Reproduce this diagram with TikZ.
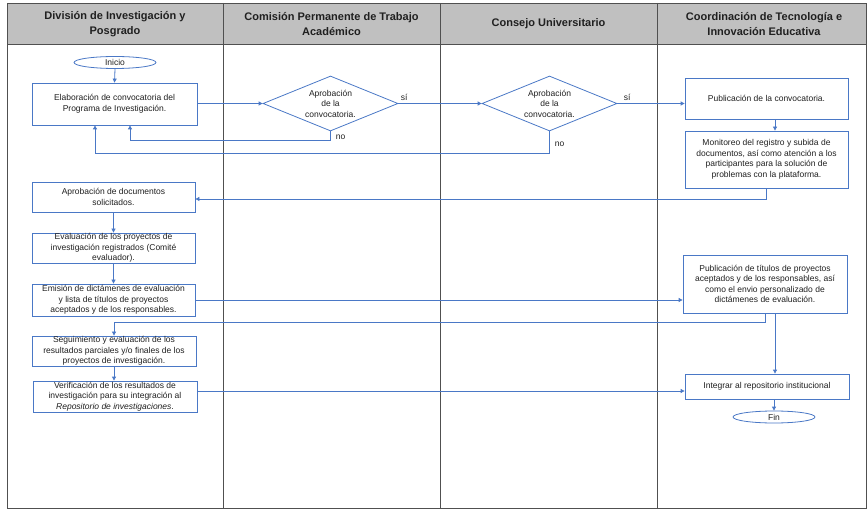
\documentclass[tikz,border=0pt]{standalone}
\usepackage{fontspec}
\setmainfont{Liberation Sans}
\usetikzlibrary{shapes.geometric,arrows.meta,calc}
\definecolor{flow}{HTML}{4A78C6}
\definecolor{hdr}{HTML}{C0C0C0}
\definecolor{gridc}{HTML}{505050}
\definecolor{txt}{HTML}{202020}
\tikzset{
  box/.style={draw=flow, line width=0.8pt, fill=white, rectangle, inner sep=0pt,
    align=center, font=\fontsize{8.5}{10.6}\selectfont, text=txt},
  term/.style={draw=flow, line width=0.8pt, ellipse, inner sep=0pt,
    minimum width=82pt, minimum height=12pt, font=\fontsize{8.5}{10}\selectfont, text=txt},
  decis/.style={draw=flow, line width=0.8pt, diamond, aspect=2.45, inner sep=0pt,
    minimum width=135pt, minimum height=55pt, align=center,
    font=\fontsize{8.5}{10.5}\selectfont, text=txt},
  head/.style={align=center, font=\fontsize{11}{15}\selectfont\bfseries, text=txt},
  arr/.style={draw=flow, line width=0.8pt, -{Triangle[width=4pt,length=4pt]}},
  lbl/.style={font=\fontsize{8.5}{10}\selectfont, text=txt, inner sep=2pt},
  gline/.style={draw=gridc, line width=0.9pt}
}
\begin{document}
\begin{tikzpicture}[x=1pt,y=-1pt]
\useasboundingbox (0,0) rectangle (867,510);
% table
\fill[hdr] (7,3) rectangle (866,44);
\draw[gline] (7,3) rectangle (866,508);
\draw[gline] (7,44) -- (866,44);
\foreach \cx in {223,440,657} \draw[gline] (\cx,3) -- (\cx,508);
% headers
\node[head] (h1) at (115,24) {División de Investigación y\\Posgrado};
\node[head] (h2) at (331.5,24) {Comisión Permanente de Trabajo\\Académico};
\node[head] (h3) at (548.5,24) {Consejo Universitario};
\node[head] (h4) at (764,24) {Coordinación de Tecnología e\\Innovación Educativa};
% nodes
\node[term] (inicio) at (115,62.5) {Inicio};
\node[box, minimum width=165pt, minimum height=42pt] (elab) at (114.5,104)
  {Elaboración de convocatoria del\\Programa de Investigación.};
\node[decis] (d1) at (330.5,103.5) {Aprobación\\de la\\convocatoria.};
\node[decis] (d2) at (549.5,103.5) {Aprobación\\de la\\convocatoria.};
\node[box, minimum width=163pt, minimum height=41pt] (pub) at (766.5,98.5)
  {Publicación de la convocatoria.};
\node[box, minimum width=163pt, minimum height=57pt] (mon) at (766.5,159.5)
  {Monitoreo del registro y subida de\\documentos, así como atención a los\\participantes para la solución de\\problemas con la plataforma.};
\node[box, minimum width=163pt, minimum height=30pt] (aprob) at (113.5,197)
  {Aprobación de documentos\\solicitados.};
\node[box, minimum width=163pt, minimum height=30pt] (evalu) at (113.5,248)
  {Evaluación de los proyectos de\\investigación registrados (Comité\\evaluador).};
\node[box, minimum width=163pt, minimum height=32pt] (emis) at (113.5,300)
  {Emisión de dictámenes de evaluación\\y lista de títulos de proyectos\\aceptados y de los responsables.};
\node[box, minimum width=164pt, minimum height=30pt] (seg) at (114,351)
  {Seguimiento y evaluación de los\\resultados parciales y/o finales de los\\proyectos de investigación.};
\node[box, minimum width=164pt, minimum height=31pt] (verif) at (115,396.5)
  {Verificación de los resultados de\\investigación para su integración al\\\textit{Repositorio de investigaciones}.};
\node[box, minimum width=164pt, minimum height=58pt] (pubt) at (765,284)
  {Publicación de títulos de proyectos\\aceptados y de los responsables, así\\como el envio personalizado de\\dictámenes de evaluación.};
\node[box, minimum width=164pt, minimum height=25pt] (integ) at (767,386.5)
  {Integrar al repositorio institucional};
\node[term] (fin) at (774,417) {Fin};
% connectors
\draw[arr] (inicio.south) -- (elab.north);
\draw[arr] ([yshift=0.5pt]elab.east) -- (d1.west);
\draw[arr] (d1.east) -- node[lbl, pos=0, anchor=south west, yshift=1pt] {sí} (d2.west);
\draw[arr] (d1.south) -- node[lbl, pos=0.6, right, xshift=3pt] {no} ++(0pt,-9pt) -| ([xshift=15.5pt]elab.south);
\draw[arr] (d2.south) -- node[lbl, pos=0.6, right, xshift=3pt] {no} ++(0pt,-22pt) -| ([xshift=-19.5pt]elab.south);
\draw[arr] (d2.east) -- node[lbl, pos=0, anchor=south west, xshift=4pt, yshift=1pt] {sí} (d2.east -| pub.west);
\draw[arr] ([xshift=8.5pt]pub.south) -- ([xshift=8.5pt]mon.north);
\draw[arr] (mon.south) |- ([yshift=-2pt]aprob.east);
\draw[arr] (aprob.south) -- (evalu.north);
\draw[arr] (evalu.south) -- (emis.north);
\draw[arr] (emis.east) -- (emis.east -| pubt.west);
\draw[arr] (pubt.south) -- ++(0pt,-9pt) -| (seg.north);
\draw[arr] ([xshift=10pt]pubt.south) -- ([xshift=10pt]pubt.south |- integ.north);
\draw[arr] (seg.south) -- (seg.south |- verif.north);
\draw[arr] ([yshift=5.5pt]verif.east) -- ([yshift=5.5pt]verif.east -| integ.west);
\draw[arr] (fin.north |- integ.south) -- (fin.north);
\end{tikzpicture}
\end{document}
